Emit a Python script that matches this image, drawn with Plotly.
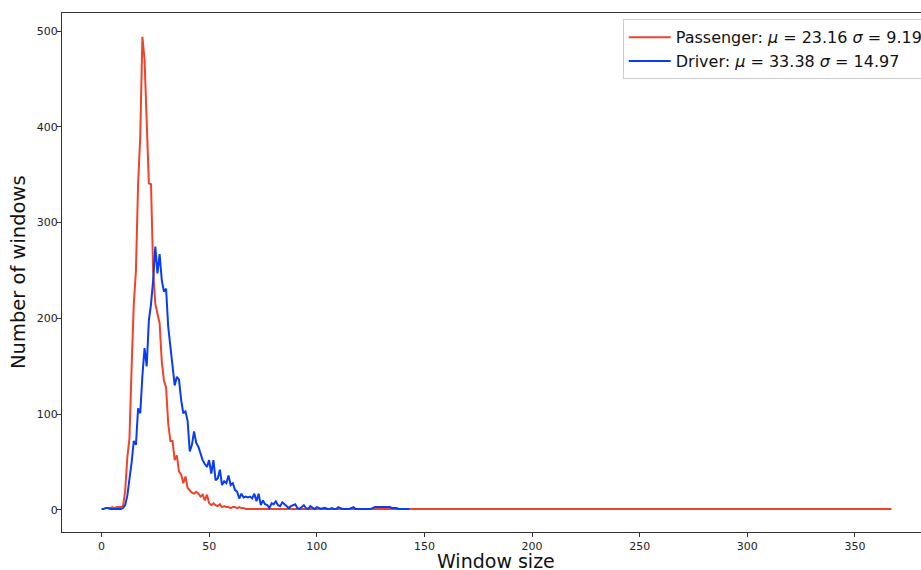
import plotly.graph_objects as go

# ---------------- data ----------------
passenger_x = list(range(3, 368))
passenger_head = [2, 2, 3, 2, 3, 3, 3, 4, 20, 55, 75, 150, 215, 250, 340, 390, 494, 470,
                  400, 341, 340, 250, 215, 205, 195, 155, 135, 128, 90, 72, 72, 52, 57,
                  40, 37, 28, 35, 23, 20, 18, 17, 19, 17, 14, 16, 10, 16, 7, 5, 7, 5, 4,
                  6, 3, 4, 3, 3, 2, 3, 3, 2, 3, 2, 2, 1]
passenger_y = passenger_head + [1] * (len(passenger_x) - len(passenger_head))

driver_x = list(range(0, 144))
driver_y = [1, 1, 2, 2, 1, 1, 1, 1, 1, 1, 2, 5, 15, 30, 50, 72, 68, 106, 101, 140,
            169, 150, 198, 215, 240, 275, 247, 267, 240, 228, 231, 191, 170, 150, 130,
            139, 136, 115, 101, 103, 93, 61, 68, 82, 70, 66, 59, 52, 48, 45, 52, 38,
            52, 31, 33, 42, 26, 30, 28, 36, 26, 28, 21, 19, 12, 17, 13, 14, 13, 14,
            12, 17, 9, 17, 5, 10, 6, 5, 2, 7, 6, 9, 5, 4, 8, 6, 5, 2, 4, 5, 6, 2, 1,
            3, 5, 2, 1, 4, 2, 1, 3, 2, 1, 2, 2, 1, 1, 2, 1, 1, 3, 2, 1, 1, 1, 1, 2, 3,
            1, 1, 1, 1, 1, 1, 1, 1, 2, 3, 3, 3, 3, 3, 3, 3, 3, 2, 2, 2, 1, 1, 1, 1, 1, 1]

passenger_label = "Passenger: <i>μ</i> = 23.16 <i>σ</i> = 9.19"
driver_label = "Driver: <i>μ</i> = 33.38 <i>σ</i> = 14.97"
x_title = "Window size"
y_title = "Number of windows"

x_ticks = [0, 50, 100, 150, 200, 250, 300, 350]
y_ticks = [0, 100, 200, 300, 400, 500]

RED = "#f0432a"
BLUE = "#0a3cf5"

fig = go.Figure()
fig.add_trace(go.Scatter(x=passenger_x, y=passenger_y, mode="lines",
                         line=dict(color=RED, width=2), name=passenger_label))
fig.add_trace(go.Scatter(x=driver_x, y=driver_y, mode="lines",
                         line=dict(color=BLUE, width=2), name=driver_label))

axis_common = dict(showline=True, linecolor="#333333", linewidth=1, mirror=True,
                   ticks="outside", ticklen=4, tickwidth=1, tickcolor="#333333",
                   showgrid=False, zeroline=False, automargin=False,
                   tickfont=dict(family="DejaVu Sans", size=11, color="#222222"))

fig.update_layout(
    width=921, height=570,
    margin=dict(l=62, r=0, t=13, b=38, autoexpand=False),
    paper_bgcolor="white", plot_bgcolor="white",
    font=dict(family="DejaVu Sans", color="#111111"),
    xaxis=dict(range=[-18.35, 380.7], tickvals=x_ticks, **axis_common),
    yaxis=dict(range=[-23, 518.8], tickvals=y_ticks, ticklabelstandoff=-3, **axis_common),
    legend=dict(x=1.009, y=0.988, xanchor="right", yanchor="top",
                bgcolor="rgba(255,255,255,0.85)", bordercolor="#cccccc", borderwidth=1,
                font=dict(family="DejaVu Sans", size=16, color="#111111"),
                tracegroupgap=0, itemwidth=42),
    showlegend=True,
    annotations=[
        dict(text=x_title, xref="paper", yref="paper", x=0.5058, y=-0.0555,
             xanchor="center", yanchor="middle", showarrow=False,
             font=dict(family="DejaVu Sans", size=19, color="#111111")),
        dict(text=y_title, xref="paper", yref="paper", x=-0.05, y=0.501,
             xanchor="center", yanchor="middle", showarrow=False, textangle=-90,
             font=dict(family="DejaVu Sans", size=19.5, color="#111111")),
    ],
)

fig.write_html(
    "out.html",
    config={"displayModeBar": False},
    post_script="document.body.style.margin='0px';document.body.style.overflow='hidden';",
)
